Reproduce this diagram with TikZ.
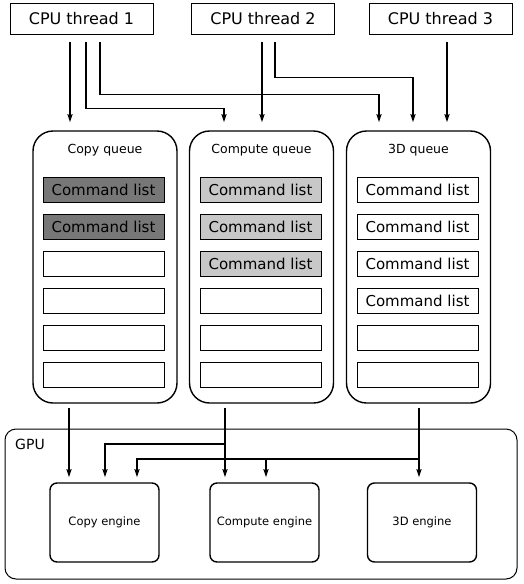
\documentclass[tikz,border=0pt]{standalone}
\usepackage{fontspec}
\setmainfont{DejaVu Sans}
\usetikzlibrary{arrows.meta}
\definecolor{darkcl}{RGB}{119,119,119}
\definecolor{lightcl}{RGB}{200,200,200}
\begin{document}
\begin{tikzpicture}[x=1pt,y=-1pt,
  thread/.style={draw, line width=0.9pt, minimum width=143pt, minimum height=31pt, inner sep=0pt, font=\fontsize{16}{19}\selectfont},
  queue/.style={draw, line width=1.4pt, rounded corners=20pt, minimum width=144pt, minimum height=272pt, inner sep=0pt},
  qlabel/.style={font=\fontsize{12.5}{15}\selectfont, inner sep=0pt},
  cl/.style={draw, line width=0.8pt, minimum width=121pt, minimum height=25pt, inner sep=0pt, font=\fontsize{15}{18}\selectfont},
  engine/.style={draw, line width=1.4pt, rounded corners=7pt, minimum width=109pt, minimum height=79pt, inner sep=0pt, font=\fontsize{11.5}{14}\selectfont},
  gpubox/.style={draw, line width=1pt, rounded corners=11pt, minimum width=512pt, minimum height=150pt, inner sep=0pt},
  arr/.style={line width=1.7pt, -{Stealth[length=8pt,width=5pt,inset=1pt]}},
  line/.style={line width=1.7pt}
]
\useasboundingbox (0,0) rectangle (523,584);

% CPU threads
\node[thread] (t1) at (81.5,18.5) {CPU thread 1};
\node[thread] (t2) at (263,18.5) {CPU thread 2};
\node[thread] (t3) at (440.5,18.5) {CPU thread 3};

% Queues
\node[queue] (q1) at (105,267) {};
\node[queue] (q2) at (261.5,267) {};
\node[queue] (q3) at (418.5,267) {};
\node[qlabel] (q1l) at (105,150) {Copy queue};
\node[qlabel] (q2l) at (261.5,150) {Compute queue};
\node[qlabel] (q3l) at (418.5,150) {3D queue};

% Copy queue lists
\node[cl, fill=darkcl] (c1) at (103.5,189.5) {Command list};
\node[cl, fill=darkcl] (c2) at (103.5,226.5) {Command list};
\node[cl] (c3) at (103.5,263.5) {};
\node[cl] (c4) at (103.5,300.5) {};
\node[cl] (c5) at (103.5,337.5) {};
\node[cl] (c6) at (103.5,374.5) {};
% Compute queue lists
\node[cl, fill=lightcl] (m1) at (260.5,189.5) {Command list};
\node[cl, fill=lightcl] (m2) at (260.5,226.5) {Command list};
\node[cl, fill=lightcl] (m3) at (260.5,263.5) {Command list};
\node[cl] (m4) at (260.5,300.5) {};
\node[cl] (m5) at (260.5,337.5) {};
\node[cl] (m6) at (260.5,374.5) {};
% 3D queue lists
\node[cl] (d1) at (417.5,189.5) {Command list};
\node[cl] (d2) at (417.5,226.5) {Command list};
\node[cl] (d3) at (417.5,263.5) {Command list};
\node[cl] (d4) at (417.5,300.5) {Command list};
\node[cl] (d5) at (417.5,337.5) {};
\node[cl] (d6) at (417.5,374.5) {};

% GPU
\node[gpubox] (gpu) at (261,504) {};
\node[font=\fontsize{14}{17}\selectfont, inner sep=0pt] (gpul) at (30,444) {GPU};
\node[engine] (e1) at (104.5,522.5) {Copy engine};
\node[engine] (e2) at (264.5,522.5) {Compute engine};
\node[engine] (e3) at (422,522.5) {3D engine};

% top connector coordinates
\coordinate (t1a) at ([xshift=-11.5pt,yshift=-8pt]t1.south);
\coordinate (t1b) at ([xshift=4.5pt,yshift=-8pt]t1.south);
\coordinate (t1c) at ([xshift=18.5pt,yshift=-8pt]t1.south);
\coordinate (t2a) at ([xshift=-1pt,yshift=-8pt]t2.south);
\coordinate (t2b) at ([xshift=12pt,yshift=-8pt]t2.south);
\coordinate (t3a) at ([xshift=6.5pt,yshift=-8pt]t3.south);
\coordinate (q1in) at ([yshift=8pt]q1.north);
\coordinate (q2in) at ([xshift=-37.5pt,yshift=8pt]q2.north);
\coordinate (q2top) at ([yshift=8pt]q2.north);
\coordinate (q3in1) at ([xshift=-39.5pt,yshift=8pt]q3.north);
\coordinate (q3in2) at ([xshift=-5.5pt,yshift=8pt]q3.north);
\coordinate (q3top) at ([yshift=8pt]q3.north);

\draw[arr] (t1a) -- (t1a |- q1in);
\draw[arr] (t1b) -- ++(0,66) -| (q2in);
\draw[arr] (t1c) -- ++(0,52) -| (q3in1);
\draw[arr] (t2a) -- (t2a |- q2top);
\draw[arr] (t2b) -- ++(0,35) -| (q3in2);
\draw[arr] (t3a) -- (t3a |- q3top);

% bottom connector coordinates
\coordinate (q1out) at ([xshift=-36pt,yshift=-4pt]q1.south);
\coordinate (q2out) at ([xshift=-36.5pt,yshift=-4pt]q2.south);
\coordinate (q3out) at ([xshift=0.5pt,yshift=-4pt]q3.south);
\coordinate (e1top) at ([yshift=5pt]e1.north);
\coordinate (e2top) at ([yshift=5pt]e2.north);
\coordinate (e3top) at ([yshift=5pt]e3.north);
\coordinate (e1in2) at ([xshift=0.5pt,yshift=5pt]e1.north);
\coordinate (e1in3) at ([xshift=32.5pt,yshift=5pt]e1.north);
\coordinate (e2in2) at ([xshift=1.5pt,yshift=5pt]e2.north);
\coordinate (j2) at ([yshift=-36pt]q2out);
\coordinate (j3) at ([yshift=-51pt]q3out);

\draw[arr] (q1out) -- (q1out |- e1top);
\draw[arr] (q2out) -- (q2out |- e2top);
\draw[arr] (q3out) -- (q3out |- e3top);
\draw[arr] (j2) -| (e1in2);
\draw[arr] (j3) -| (e1in3);
\draw[arr] (j3 -| e2in2) -- (e2in2);
\end{tikzpicture}
\end{document}
